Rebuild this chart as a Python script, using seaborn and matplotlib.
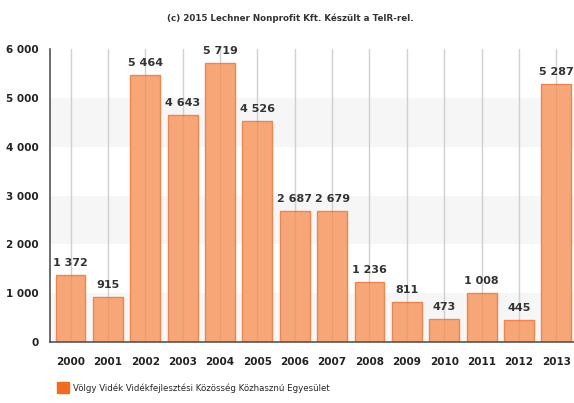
import matplotlib
matplotlib.use("Agg")
import matplotlib.pyplot as plt
import seaborn as sns
import pandas as pd
from matplotlib.patches import Patch

years = ["2000", "2001", "2002", "2003", "2004", "2005", "2006",
         "2007", "2008", "2009", "2010", "2011", "2012", "2013"]
values = [1372, 915, 5464, 4643, 5719, 4526, 2687,
          2679, 1236, 811, 473, 1008, 445, 5287]
yticks = [0, 1000, 2000, 3000, 4000, 5000, 6000]
title = "(c) 2015 Lechner Nonprofit Kft. Készült a TeIR-rel."
series_name = "Völgy Vidék Vidékfejlesztési Közösség Közhasznú Egyesület"

sns.set_style("white")
plt.rcParams['font.family'] = ['DejaVu Sans']

df = pd.DataFrame({"year": years, "value": values})

fig = plt.figure(figsize=(5.74, 4.03), dpi=100)
ax = fig.add_axes([50/574, 1-342/403, 525/574, (342-49)/403])

for lo in (0, 2000, 4000):
    ax.axhspan(lo, lo + 1000, color="#f6f6f6", zorder=0, lw=0)

sns.barplot(data=df, x="year", y="value", color="#F7A677",
            saturation=1, edgecolor="#EC8550", linewidth=1, width=0.8,
            ax=ax, zorder=2)

ax.grid(False)
for i in range(len(years)):
    ax.axvline(i, color="#dcdcdc", lw=1, zorder=1)
    ax.axvline(i, color="#000000", alpha=0.05, lw=1, zorder=3)

ax.set_ylim(0, 6000)
ax.set_xlim(-0.55, 13.5)
ax.set_yticks(yticks)
ax.set_yticklabels([f"{v:,}".replace(",", " ") for v in yticks])
ax.set_xlabel("")
ax.set_ylabel("")
ax.tick_params(axis="both", direction="out", length=5, width=1, color="#444444",
               labelsize=7.5, labelcolor="#222222")
ax.tick_params(axis="x", pad=6)
ax.tick_params(axis="y", pad=3)
for lab in ax.get_xticklabels() + ax.get_yticklabels():
    lab.set_fontweight("bold")

for s in ("top", "right"):
    ax.spines[s].set_visible(False)
for s in ("left", "bottom"):
    ax.spines[s].set_color("#555555")
    ax.spines[s].set_linewidth(1.2)
    ax.spines[s].set_zorder(4)

for i, v in enumerate(values):
    ax.annotate(f"{v:,}".replace(",", " "), (i, v), xytext=(0, 5),
                textcoords="offset points", ha="center", va="bottom",
                fontsize=8, fontweight="bold", color="#333333")

fig.text(0.505, 0.955, title, ha="center", va="center", fontsize=6.3,
         fontweight="bold", color="#333333")

handle = Patch(facecolor="#F26B21", edgecolor="#F26B21")
fig.legend([handle], [series_name], loc="lower left",
           bbox_to_anchor=(0.085, 0.005), frameon=False,
           handlelength=1.4, handleheight=1.6, handletextpad=0.5,
           prop={"size": 6.2})

fig.savefig("out.png", dpi=100)
